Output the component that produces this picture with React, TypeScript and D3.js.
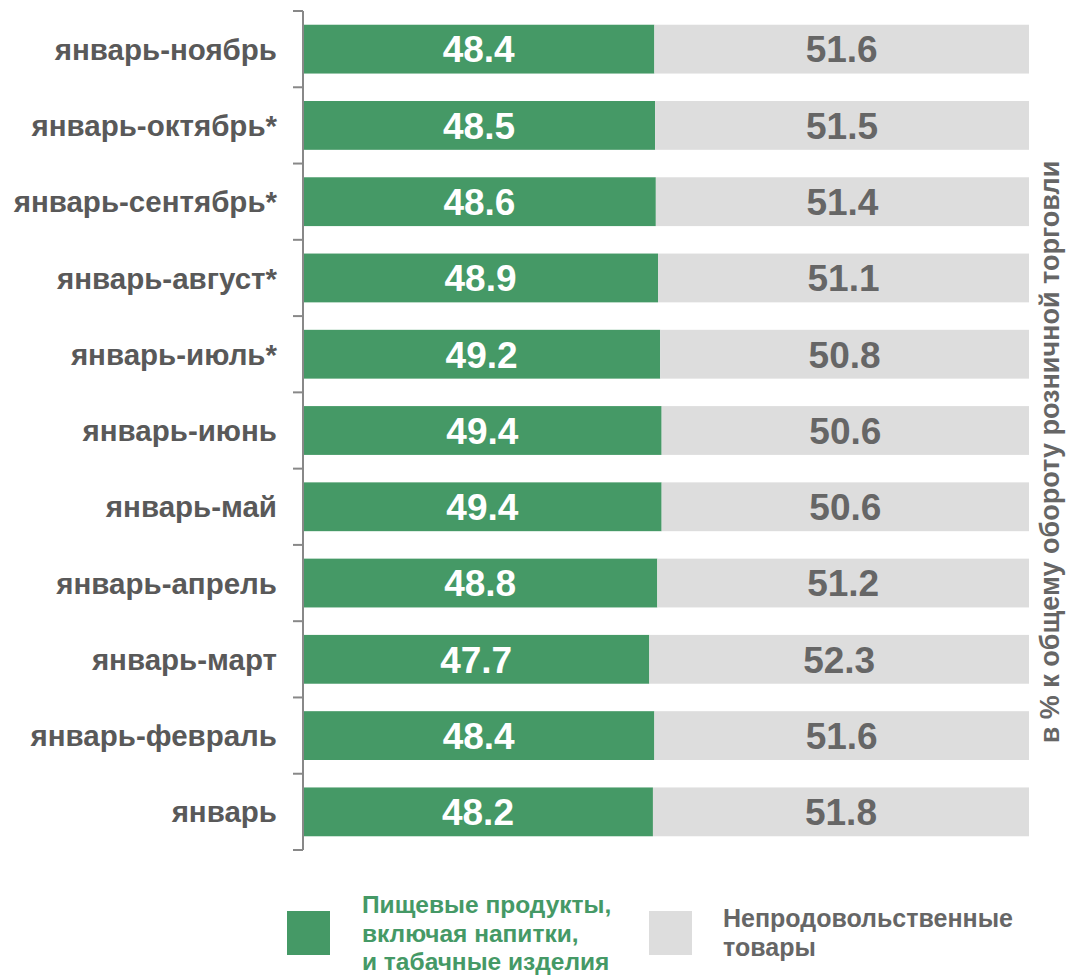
import React from 'react';
import * as d3 from 'd3';

const categories = [
  'январь-ноябрь',
  'январь-октябрь*',
  'январь-сентябрь*',
  'январь-август*',
  'январь-июль*',
  'январь-июнь',
  'январь-май',
  'январь-апрель',
  'январь-март',
  'январь-февраль',
  'январь',
];
const food = [48.4, 48.5, 48.6, 48.9, 49.2, 49.4, 49.4, 48.8, 47.7, 48.4, 48.2];
const nonFood = [51.6, 51.5, 51.4, 51.1, 50.8, 50.6, 50.6, 51.2, 52.3, 51.6, 51.8];
const legendLabels = [
  ['Пищевые продукты,', 'включая напитки,', 'и табачные изделия'],
  ['Непродовольственные', 'товары'],
];
const axisTitle = 'в % к общему обороту розничной торговли';

const GREEN = '#459966';
const GRAY = '#dddddd';
const FONT = '"Liberation Sans", Arial, sans-serif';

const App: React.FC = () => {
  const width = 1066;
  const height = 975;
  const x0 = 303;
  const x1 = 1029;

  const x = d3.scaleLinear().domain([0, 100]).range([x0, x1]);
  const y = d3.scaleBand<string>().domain(categories).range([11, 850]).paddingInner(0.36).paddingOuter(0.18);
  const yTicks = d3.scaleBand<string>().domain(categories).range([11, 850]);

  return (
    <svg width={width} height={height} style={{ display: 'block', position: 'absolute', left: 0, top: 0 }} fontFamily={FONT}>
      {categories.map((c, i) => {
        const by = y(c) || 0;
        const bh = y.bandwidth();
        const cy = by + bh / 2;
        const xa = x(food[i]);
        const xb = x(food[i] + nonFood[i]);
        return (
          <g key={c}>
            <rect x={x0} y={by} width={xa - x0} height={bh} fill={GREEN} />
            <rect x={xa} y={by} width={xb - xa} height={bh} fill={GRAY} />
            <text x={(x0 + xa) / 2} y={cy} dy="0.36em" textAnchor="middle" fill="#fff" fontWeight="bold" fontSize={37}>
              {food[i].toFixed(1)}
            </text>
            <text x={(xa + xb) / 2} y={cy} dy="0.36em" textAnchor="middle" fill="#666" fontWeight="bold" fontSize={37}>
              {nonFood[i].toFixed(1)}
            </text>
            <text x={277} y={cy} dy="0.36em" textAnchor="end" fill="#595959" fontWeight="bold" fontSize={29.5}>
              {c}
            </text>
          </g>
        );
      })}
      {/* axis line and ticks */}
      <line x1={x0} x2={x0} y1={11} y2={850} stroke="#888" strokeWidth={2} />
      {[...categories.map((c) => yTicks(c) || 0), 850].map((t, i) => (
        <line key={i} x1={293} x2={x0} y1={t} y2={t} stroke="#888" strokeWidth={2} />
      ))}
      <text
        transform={`translate(1059,452) rotate(-90)`}
        textAnchor="middle"
        fill="#666"
        fontWeight="bold"
        fontSize={27}
      >
        {axisTitle}
      </text>
      {/* legend */}
      <rect x={287} y={911} width={43} height={44} fill={GREEN} />
      {legendLabels[0].map((l, i) => (
        <text key={l} x={362} y={913 + i * 28.5} fill={GREEN} fontWeight="bold" fontSize={24.5}>
          {l}
        </text>
      ))}
      <rect x={649} y={911} width={43} height={44} fill={GRAY} />
      {legendLabels[1].map((l, i) => (
        <text key={l} x={723} y={927 + i * 29} fill="#666" fontWeight="bold" fontSize={25}>
          {l}
        </text>
      ))}
    </svg>
  );
};

export default App;
